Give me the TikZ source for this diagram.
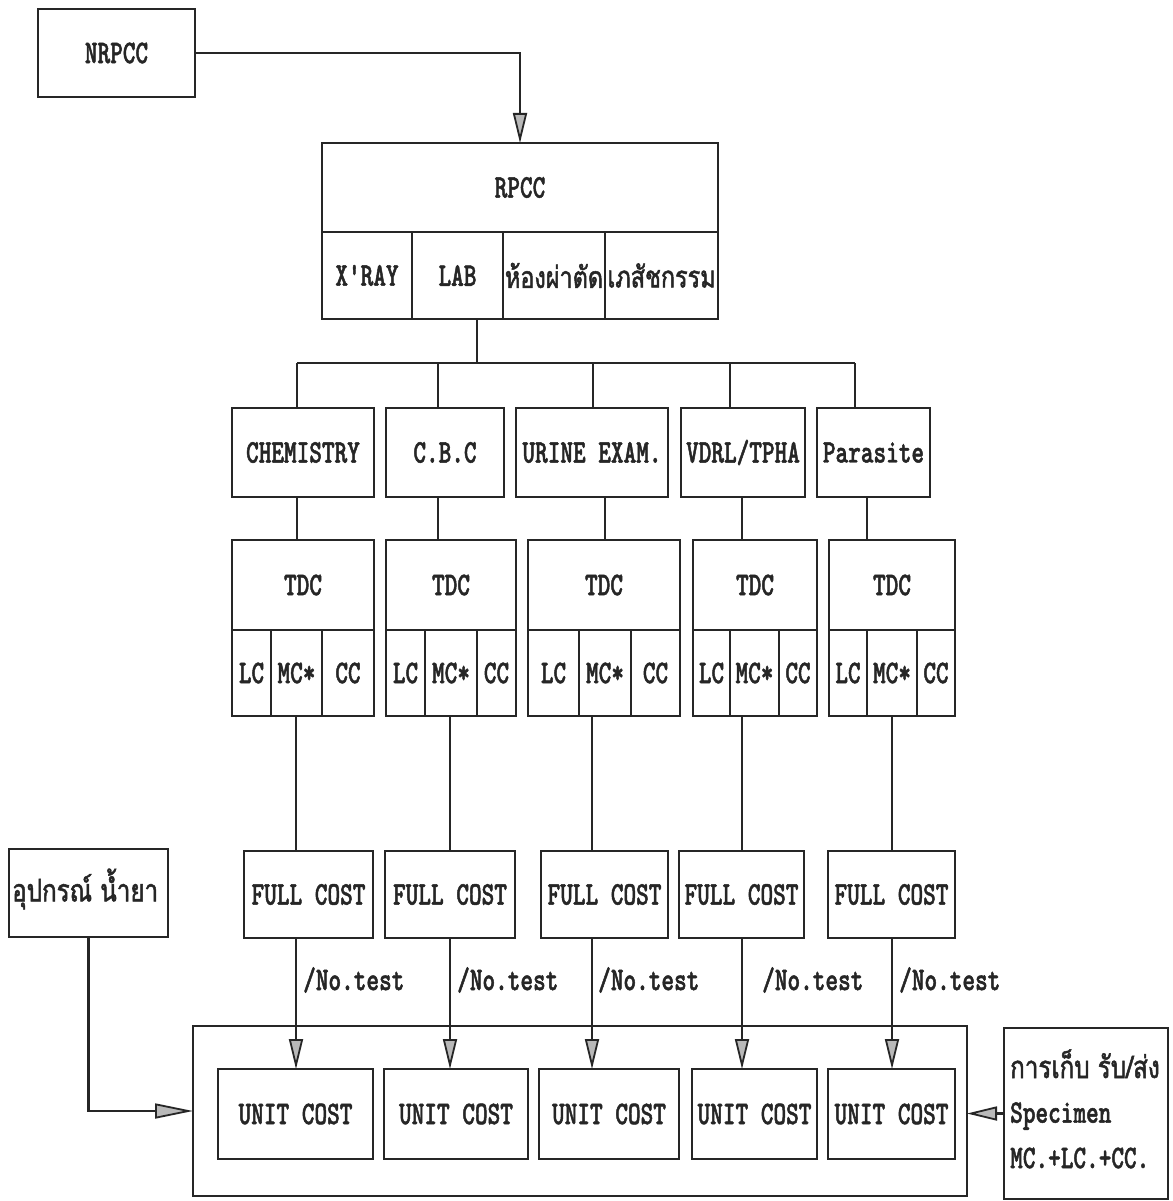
\documentclass[tikz,border=0pt]{standalone}
\usepackage{fontspec}
\usetikzlibrary{arrows.meta,calc}
\newfontfamily\dotfont[FakeStretch=0.73,FakeBold=1.4]{lmmonolt10-bold.otf}
\newfontfamily\thaifont[Script=Thai,FakeStretch=0.78,FakeBold=1.6]{Loma}
\newcommand\mybox[7][]{\node[box,#1,minimum width={(#5)-(#3)},minimum height={(#6)-(#4)}] (#2) at ({((#3)+(#5))/2},{((#4)+(#6))/2}) {#7};}
\begin{document}
\begin{tikzpicture}[x=1pt,y=-1pt,
  ink/.style={draw=black!85,line width=2.8pt},
  box/.style={ink,rectangle,inner sep=0pt,outer sep=0pt,text=black!85,font=\dotfont\fontsize{33}{34}\selectfont},
  th/.style={font=\thaifont\fontsize{30}{32}\selectfont},
  lbl/.style={inner sep=0pt,text=black!85,font=\dotfont\fontsize{33}{34}\selectfont},
  thl/.style={inner sep=0pt,text=black!85,font=\thaifont\fontsize{31}{33}\selectfont},
  line/.style={ink},
  arr/.style={ink,-{Triangle[length=30pt,width=14pt,fill=gray!55,line width=1.8pt]}},
]
\fill[white] (0,0) rectangle (1172,1201);
\useasboundingbox (0,0) rectangle (1172,1201);

% top
\mybox{nrpcc}{38}{9}{195}{97}{NRPCC}
\mybox{rpcc}{322}{143}{718}{232}{RPCC}
\mybox{xray}{322}{232}{412}{319}{X'RAY}
\mybox{lab}{412}{232}{503}{319}{LAB}
\mybox[th]{orrm}{503}{232}{605}{319}{ห้องผ่าตัด}
\mybox[th]{phar}{605}{232}{718}{319}{เภสัชกรรม}

% categories
\mybox{cat1}{232}{408}{374}{497}{CHEMISTRY}
\mybox{cat2}{386}{408}{504}{497}{C.B.C}
\mybox{cat3}{516}{408}{668}{497}{URINE EXAM.}
\mybox{cat4}{681}{408}{805}{497}{VDRL/TPHA}
\mybox{cat5}{817}{408}{930}{497}{Parasite}

% TDC blocks
\mybox{tdc1}{232}{540}{374}{630}{TDC}
\mybox{lc1}{232}{630}{271}{716}{LC}
\mybox{mc1}{271}{630}{322}{716}{MC*}
\mybox{cc1}{322}{630}{374}{716}{CC}

\mybox{tdc2}{386}{540}{516}{630}{TDC}
\mybox{lc2}{386}{630}{425}{716}{LC}
\mybox{mc2}{425}{630}{477}{716}{MC*}
\mybox{cc2}{477}{630}{516}{716}{CC}

\mybox{tdc3}{528}{540}{680}{630}{TDC}
\mybox{lc3}{528}{630}{579}{716}{LC}
\mybox{mc3}{579}{630}{631}{716}{MC*}
\mybox{cc3}{631}{630}{680}{716}{CC}

\mybox{tdc4}{693}{540}{817}{630}{TDC}
\mybox{lc4}{693}{630}{730}{716}{LC}
\mybox{mc4}{730}{630}{779}{716}{MC*}
\mybox{cc4}{779}{630}{817}{716}{CC}

\mybox{tdc5}{829}{540}{955}{630}{TDC}
\mybox{lc5}{829}{630}{867}{716}{LC}
\mybox{mc5}{867}{630}{917}{716}{MC*}
\mybox{cc5}{917}{630}{955}{716}{CC}

% full cost
\mybox{fc1}{244}{851}{373}{938}{FULL COST}
\mybox{fc2}{385}{851}{515}{938}{FULL COST}
\mybox{fc3}{541}{851}{668}{938}{FULL COST}
\mybox{fc4}{679}{851}{804}{938}{FULL COST}
\mybox{fc5}{828}{851}{955}{938}{FULL COST}

% big box and unit cost
\mybox{big}{193}{1026}{967}{1196}{}
\mybox{uc1}{218}{1069}{373}{1159}{UNIT COST}
\mybox{uc2}{384}{1069}{528}{1159}{UNIT COST}
\mybox{uc3}{539}{1069}{679}{1159}{UNIT COST}
\mybox{uc4}{692}{1069}{817}{1159}{UNIT COST}
\mybox{uc5}{828}{1069}{955}{1159}{UNIT COST}

% side boxes
\mybox{equip}{9}{849}{168}{937}{}
\node[thl,anchor=west] (equipT) at (12,889) {อุปกรณ์ น้ำยา};
\mybox{spec}{1004}{1028}{1168}{1199}{}
\node[thl,anchor=base west] (specA) at (1010,1078) {การเก็บ รับ/ส่ง};
\node[lbl,anchor=west] (specB) at (1010,1116) {Specimen};
\node[lbl,anchor=west] (specC) at (1010,1158) {MC.+LC.+CC.};

% coordinates
\coordinate (bus) at (477,363);
\coordinate (d1) at (297,363);
\coordinate (d2) at (438,363);
\coordinate (d3) at (593,363);
\coordinate (d4) at (730,363);
\coordinate (d5) at (855,363);
\coordinate (c1) at (297,0);
\coordinate (c2) at (438,0);
\coordinate (c3) at (605,0);
\coordinate (c4) at (742,0);
\coordinate (c5) at (867,0);
\coordinate (f1) at (296,0);
\coordinate (f2) at (450,0);
\coordinate (f3) at (592,0);
\coordinate (f4) at (742,0);
\coordinate (f5) at (892,0);

% connectors
\draw[arr] (nrpcc.east) -| (rpcc.north);
\draw[line] (lab.south -| bus) -- (bus);
\draw[line] (d1) -- (d5);
\draw[line] (d1) -- (d1 |- cat1.north);
\draw[line] (d2) -- (d2 |- cat2.north);
\draw[line] (d3) -- (d3 |- cat3.north);
\draw[line] (d4) -- (d4 |- cat4.north);
\draw[line] (d5) -- (d5 |- cat5.north);

\draw[line] (cat1.south -| c1) -- (tdc1.north -| c1);
\draw[line] (cat2.south -| c2) -- (tdc2.north -| c2);
\draw[line] (cat3.south -| c3) -- (tdc3.north -| c3);
\draw[line] (cat4.south -| c4) -- (tdc4.north -| c4);
\draw[line] (cat5.south -| c5) -- (tdc5.north -| c5);

\draw[line] (mc1.south -| f1) -- (fc1.north -| f1);
\draw[line] (mc2.south -| f2) -- (fc2.north -| f2);
\draw[line] (mc3.south -| f3) -- (fc3.north -| f3);
\draw[line] (mc4.south -| f4) -- (fc4.north -| f4);
\draw[line] (mc5.south -| f5) -- (fc5.north -| f5);

\draw[arr] (fc1.south -| f1) -- (uc1.north -| f1);
\draw[arr] (fc2.south -| f2) -- (uc2.north -| f2);
\draw[arr] (fc3.south -| f3) -- (uc3.north -| f3);
\draw[arr] (fc4.south -| f4) -- (uc4.north -| f4);
\draw[arr] (fc5.south -| f5) -- (uc5.north -| f5);

\node[lbl,anchor=west] (nt1) at (303,980) {/No.test};
\node[lbl,anchor=west] (nt2) at (457,980) {/No.test};
\node[lbl,anchor=west] (nt3) at (598,980) {/No.test};
\node[lbl,anchor=west] (nt4) at (762,980) {/No.test};
\node[lbl,anchor=west] (nt5) at (899,980) {/No.test};

\draw[ink,-{Triangle[length=38pt,width=15pt,fill=gray!55,line width=1.8pt]}] (equip.south) |- (big.west);
\draw[arr] (spec.west) -- (spec.west -| big.east);
\end{tikzpicture}
\end{document}
